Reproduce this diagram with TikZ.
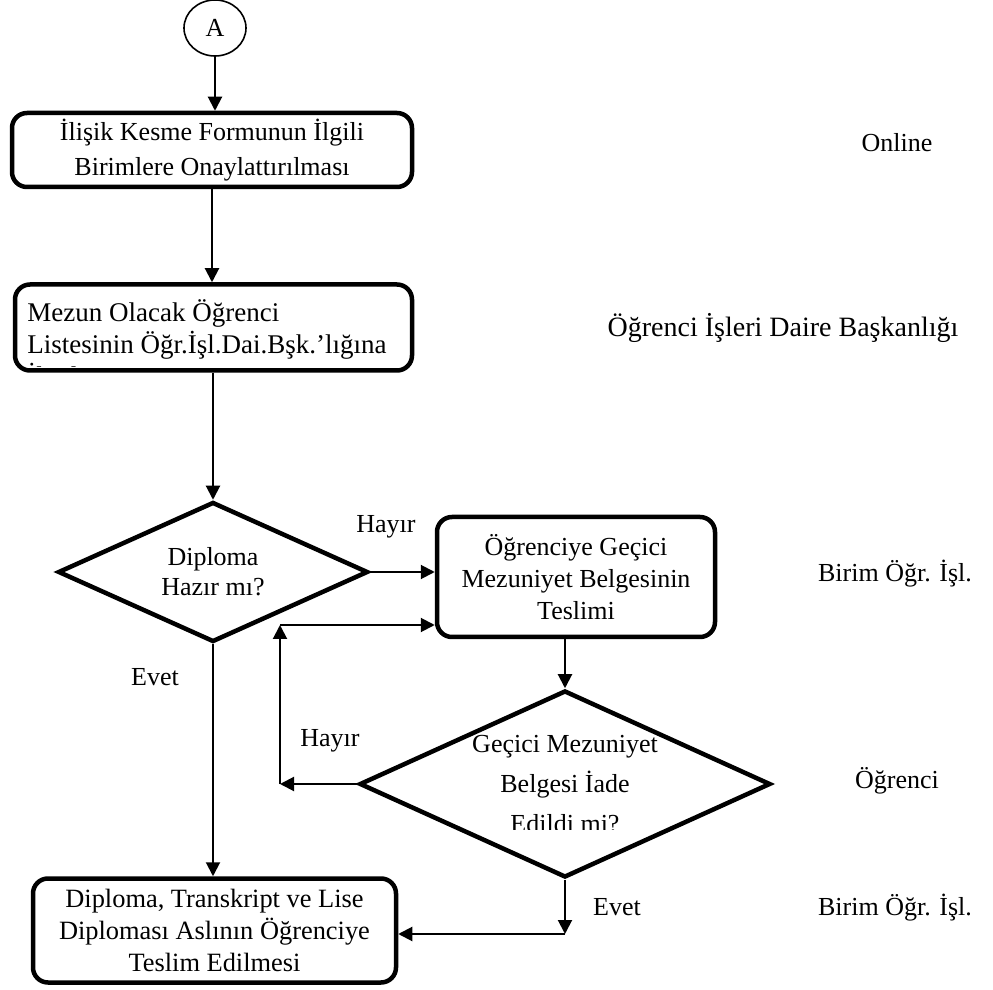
\documentclass[tikz,border=0pt]{standalone}
\usepackage{fontspec}
\setmainfont{Liberation Serif}
\usetikzlibrary{shapes.geometric,arrows.meta}
\tikzset{
  box/.style={draw, line width=2.25pt, rounded corners=7.5pt, align=center, inner sep=0pt},
  decision/.style={draw, diamond, line width=2.25pt, inner sep=0pt, align=center},
  conn/.style={line width=1pt, -{Triangle[length=7pt,width=7pt]}},
}
\begin{document}
\begin{tikzpicture}[x=0.5pt,y=-0.5pt,font=\fontsize{13}{16}\selectfont]
    \useasboundingbox (0,0) rectangle (993,990);
    \node[draw, ellipse, line width=0.8pt, minimum width=31pt, minimum height=28pt, inner sep=0pt] (A) at (215,28) {A};
    \node[box, minimum width=200pt, minimum height=37pt, font=\fontsize{13}{17.5}\selectfont] (B1) at (212,150) {İlişik Kesme Formunun İlgili\\Birimlere Onaylattırılması};
    \node[box, minimum width=198.5pt, minimum height=43pt] (B2) at (213.5,327.5) {};
    \begin{scope}
        \clip (19,288) rectangle (409,367);
        \node[align=left, anchor=north west, inner sep=0pt, font=\fontsize{13.5}{16}\selectfont] (B2text) at (27,299) {Mezun Olacak Öğrenci\\Listesinin Öğr.İşl.Dai.Bşk.’lığına\\İletilmesi};
    \end{scope}
    \node[decision, minimum width=155pt, minimum height=70pt, aspect=2.2, font=\fontsize{13}{15}\selectfont] (D1) at (213,572) {Diploma\\Hazır mı?};
    \node[box, minimum width=139pt, minimum height=60pt] (B3) at (576,577) {Öğrenciye Geçici\\Mezuniyet Belgesinin\\Teslimi};
    \node[decision, minimum width=205.5pt, minimum height=93.5pt, aspect=2.2] (D2) at (565,784) {};
    \begin{scope}
        \clip (400,700) rectangle (730,829);
        \node[align=center, inner sep=0pt, font=\fontsize{13}{20}\selectfont] (D2text) at (565,784) {Geçici Mezuniyet\\Belgesi İade\\Edildi mi?};
    \end{scope}
    \node[box, minimum width=181.5pt, minimum height=52pt, font=\fontsize{13.2}{16}\selectfont] (B4) at (214.5,930.5) {Diploma, Transkript ve Lise\\Diploması Aslının Öğrenciye\\Teslim Edilmesi};
    \coordinate (c1) at (280,784);
    \coordinate (c2) at (280,625);
    \coordinate (c3) at (565,934);
    \draw[conn] (A) -- (A |- B1.north);
    \draw[conn] (B1) -- (B1 |- B2.north);
    \draw[conn] (B2.south -| D1.north) -- (D1.north);
    \draw[conn] (D1.east) -- (B3.west |- D1.east);
    \draw[conn] (D2.north |- B3.south) -- (D2.north);
    \draw[conn] (D1.south) -- (D1.south |- B4.north);
    \draw[conn] (D2.west) -- (c1);
    \draw[conn] (c1) -- (c2);
    \draw[conn] (c2) -- (B3.west |- c2);
    \draw[conn] (D2.south) -- (c3);
    \draw[conn] (c3) -- (B4.east |- c3);
    \node (hayir1) at (386,527) {Hayır};
    \node (hayir2) at (330,741) {Hayır};
    \node (evet1) at (155,677) {Evet};
    \node (evet2) at (617,907) {Evet};
    \node (online) at (897,143) {Online};
    \node[font=\fontsize{14}{16}\selectfont] (oidb) at (783,328) {Öğrenci İşleri Daire Başkanlığı};
    \node (birim1) at (895,574) {Birim Öğr. İşl.};
    \node (ogrenci) at (897,781) {Öğrenci};
    \node (birim2) at (895,908) {Birim Öğr. İşl.};
\end{tikzpicture}
\end{document}
